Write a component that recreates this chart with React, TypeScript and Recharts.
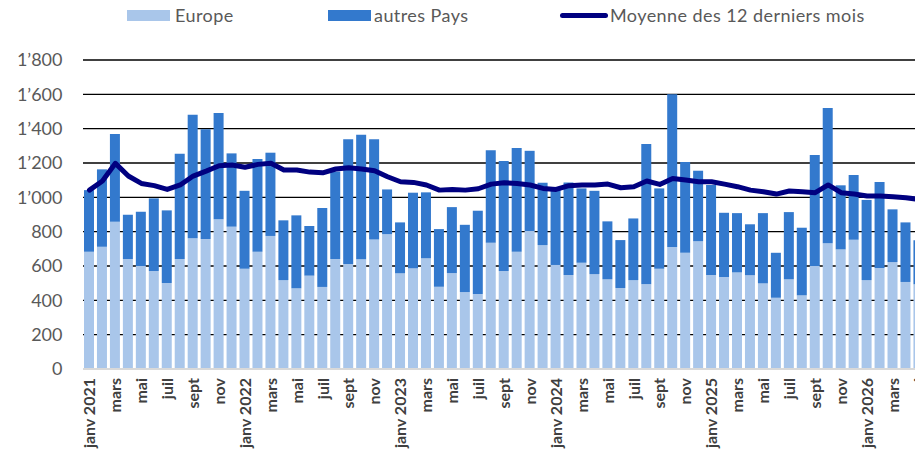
import React from 'react';
import { ComposedChart, Bar, Line, XAxis, YAxis, CartesianGrid } from 'recharts';

const MONTHS = ['janv', 'févr', 'mars', 'avr', 'mai', 'juin', 'juil', 'août', 'sept', 'oct', 'nov', 'déc'];
const YEARS = [2021, 2022, 2023, 2024, 2025, 2026];

const europe = [
  683, 712, 858, 641, 600, 571, 501, 641, 761, 757, 872, 829,
  584, 683, 775, 518, 470, 544, 478, 641, 612, 639, 755, 786,
  557, 586, 645, 479, 559, 448, 437, 736, 571, 683, 804, 722,
  606, 547, 619, 553, 522, 472, 518, 493, 584, 711, 677, 745,
  547, 536, 563, 547, 499, 415, 522, 429, 600, 732, 697, 753,
  518, 588, 623, 507, 493,
];

const autresPays = [
  359, 451, 511, 258, 316, 423, 423, 613, 720, 639, 619, 427,
  454, 540, 485, 348, 425, 289, 460, 509, 726, 726, 583, 260,
  297, 441, 384, 336, 384, 392, 485, 539, 640, 604, 467, 363,
  444, 540, 433, 485, 338, 279, 359, 817, 468, 890, 529, 410,
  525, 374, 345, 296, 409, 262, 392, 394, 646, 788, 373, 377,
  467, 501, 307, 347, 257,
];

const moyenne12 = [
  1042, 1095, 1198, 1124, 1081, 1068, 1046, 1072, 1124, 1153, 1184, 1188,
  1175, 1192, 1198, 1159, 1159, 1147, 1143, 1165, 1172, 1165, 1155, 1120,
  1091, 1087, 1072, 1042, 1046, 1042, 1050, 1077, 1085, 1081, 1072, 1052,
  1046, 1068, 1072, 1072, 1077, 1056, 1062, 1095, 1075, 1110, 1101, 1091,
  1091, 1077, 1062, 1042, 1033, 1019, 1037, 1033, 1027, 1072, 1027, 1019,
  1008, 1008, 1003, 998, 988,
];

const yTicks = [0, 200, 400, 600, 800, 1000, 1200, 1400, 1600, 1800];

const chartData = europe.map((e, i) => {
  const m = i % 12;
  const y = YEARS[Math.floor(i / 12)];
  return {
    name: m === 0 ? `${MONTHS[m]} ${y}` : MONTHS[m],
    europe: e,
    autres: autresPays[i],
    moyenne: moyenne12[i],
  };
});

const fmtThousands = (v: number) =>
  v >= 1000 ? `${Math.floor(v / 1000)}’${String(v % 1000).padStart(3, '0')}` : String(v);

const XTick = (props: any) => {
  const { x, y, payload } = props;
  return (
    <g transform={`translate(${x},${y + 9})`}>
      <text
        transform="rotate(-90)"
        textAnchor="end"
        dy="0.36em"
        fontFamily="Lato"
        fontWeight="bold"
        fontSize={16}
        fill="#404040"
      >
        {payload.value}
      </text>
    </g>
  );
};

const legendText: React.CSSProperties = {
  fontFamily: 'Lato',
  fontSize: 18,
  letterSpacing: 0.43,
  color: '#595959',
  position: 'absolute',
  top: 4,
  lineHeight: '22px',
  whiteSpace: 'nowrap',
};

export default function App() {
  return (
    <div style={{ position: 'absolute', left: 0, top: 0, width: 915, height: 456, overflow: 'hidden', background: '#fff' }}>
      <div style={{ position: 'absolute', left: 127, top: 10, width: 43, height: 11, background: '#A9C6EA' }} />
      <div style={{ ...legendText, left: 175 }}>Europe</div>
      <div style={{ position: 'absolute', left: 328, top: 10, width: 43, height: 11, background: '#3379CD' }} />
      <div style={{ ...legendText, left: 374 }}>autres Pays</div>
      <div style={{ position: 'absolute', left: 560, top: 13, width: 48, height: 5, borderRadius: 3, background: '#000080' }} />
      <div style={{ ...legendText, left: 610 }}>Moyenne des 12 derniers mois</div>

      <ComposedChart
        width={940}
        height={456}
        data={chartData}
        margin={{ top: 60, right: 14.6, left: 0, bottom: 0 }}
      >
        <CartesianGrid vertical={false} stroke="#000" strokeWidth={1.3} />
        <XAxis
          dataKey="name"
          interval={1}
          height={87}
          tickLine={false}
          tickSize={0}
          tickMargin={0}
          axisLine={{ stroke: '#D9D9D9', strokeWidth: 2 }}
          tick={<XTick />}
        />
        <YAxis
          width={83}
          domain={[0, 1800]}
          ticks={yTicks}
          interval={0}
          axisLine={false}
          tickLine={false}
          tickSize={0}
          tickMargin={20.5}
          tickFormatter={fmtThousands}
          tick={{ fontFamily: 'Lato', fontSize: 18, fill: '#595959' }}
        />
        <Bar dataKey="europe" name="Europe" stackId="a" fill="#A9C6EA" barSize={10} isAnimationActive={false} />
        <Bar dataKey="autres" name="autres Pays" stackId="a" fill="#3379CD" barSize={10} isAnimationActive={false} />
        <Line
          type="linear"
          dataKey="moyenne"
          name="Moyenne des 12 derniers mois"
          stroke="#000080"
          strokeWidth={5}
          strokeLinejoin="round"
          strokeLinecap="round"
          dot={false}
          activeDot={false}
          isAnimationActive={false}
        />
      </ComposedChart>
    </div>
  );
}
